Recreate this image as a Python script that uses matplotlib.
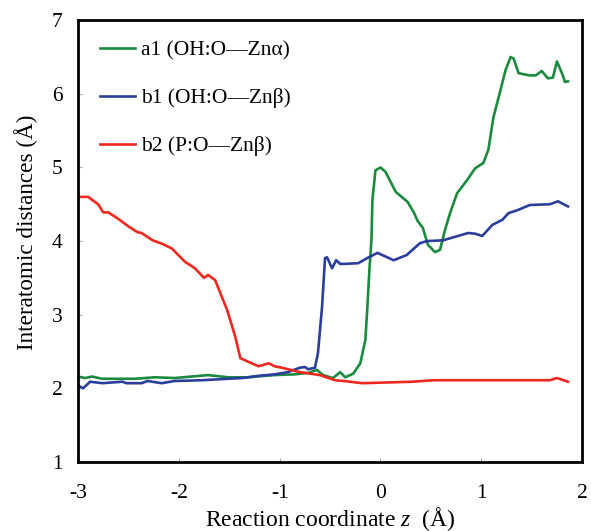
import matplotlib
matplotlib.use("Agg")
import matplotlib.pyplot as plt

# a1 (OH:O-Zn alpha)
a1_z = [-3.03, -2.93, -2.86, -2.76, -2.43, -2.24, -2.04, -1.71, -1.51, -1.31, -1.05,
        -0.85, -0.72, -0.63, -0.57, -0.47, -0.40, -0.35, -0.27, -0.20, -0.15, -0.13,
        -0.11, -0.09, -0.08, -0.05, 0.0, 0.05, 0.15, 0.27, 0.33, 0.37, 0.42, 0.47,
        0.54, 0.59, 0.64, 0.69, 0.76, 0.86, 0.94, 1.02, 1.07, 1.12, 1.19, 1.24,
        1.29, 1.32, 1.37, 1.48, 1.54, 1.60, 1.66, 1.71, 1.75, 1.80, 1.83, 1.86]
a1_d = [2.17, 2.14, 2.16, 2.13, 2.13, 2.15, 2.14, 2.18, 2.15, 2.15, 2.18,
        2.19, 2.21, 2.25, 2.18, 2.14, 2.22, 2.15, 2.20, 2.34, 2.66, 3.10,
        3.61, 4.01, 4.56, 4.96, 5.00, 4.94, 4.67, 4.53, 4.39, 4.27, 4.18, 3.95,
        3.85, 3.88, 4.15, 4.38, 4.65, 4.83, 4.99, 5.06, 5.24, 5.68, 6.05, 6.32,
        6.50, 6.48, 6.28, 6.25, 6.25, 6.31, 6.21, 6.22, 6.44, 6.28, 6.16, 6.17]

# b1 (OH:O-Zn beta)
b1_z = [-3.0, -2.95, -2.88, -2.76, -2.56, -2.52, -2.37, -2.31, -2.17, -2.04, -1.77,
        -1.51, -1.37, -1.21, -1.05, -0.92, -0.80, -0.75, -0.72, -0.65, -0.62, -0.58,
        -0.55, -0.53, -0.48, -0.44, -0.40, -0.35, -0.22, -0.13, -0.03, 0.13, 0.26,
        0.39, 0.46, 0.62, 0.87, 0.94, 1.01, 1.11, 1.21, 1.27, 1.36, 1.48, 1.68,
        1.76, 1.86]
b1_d = [2.04, 2.00, 2.09, 2.07, 2.09, 2.07, 2.07, 2.10, 2.07, 2.10, 2.11,
        2.13, 2.14, 2.17, 2.19, 2.22, 2.28, 2.29, 2.26, 2.28, 2.48, 3.10,
        3.77, 3.78, 3.63, 3.74, 3.69, 3.69, 3.70, 3.77, 3.84, 3.74, 3.81,
        3.97, 4.00, 4.01, 4.11, 4.10, 4.07, 4.22, 4.29, 4.38, 4.42, 4.49, 4.50,
        4.54, 4.47]

# b2 (P:O-Zn beta)
b2_z = [-3.03, -2.90, -2.80, -2.75, -2.70, -2.61, -2.50, -2.41, -2.37, -2.26, -2.16,
        -2.07, -1.94, -1.84, -1.75, -1.71, -1.64, -1.57, -1.52, -1.44, -1.39, -1.31,
        -1.21, -1.11, -1.05, -0.98, -0.80, -0.60, -0.45, -0.37, -0.18, 0.32, 0.52,
        1.68, 1.75, 1.86]
b2_d = [4.60, 4.60, 4.50, 4.39, 4.39, 4.31, 4.20, 4.12, 4.11, 4.01, 3.96,
        3.90, 3.72, 3.63, 3.50, 3.54, 3.47, 3.23, 3.06, 2.70, 2.41, 2.36,
        2.30, 2.34, 2.30, 2.28, 2.22, 2.18, 2.11, 2.10, 2.07, 2.09, 2.11,
        2.11, 2.14, 2.09]

plt.rcParams['font.family'] = ['Liberation Serif', 'DejaVu Serif']
plt.rcParams['axes.unicode_minus'] = False
plt.rcParams['mathtext.fontset'] = 'custom'
plt.rcParams['mathtext.it'] = 'Liberation Serif:italic'
plt.rcParams['mathtext.rm'] = 'Liberation Serif'

fig = plt.figure(figsize=(5.91, 5.31), dpi=100)
ax = fig.add_axes([0.132, 0.130, 0.853, 0.832])

ax.plot(a1_z, a1_d, color='#1b8a3f', lw=1.9, label='a1 (OH:O\u2014Zn\u03b1)')
ax.plot(b1_z, b1_d, color='#2b3e9c', lw=1.9, label='b1 (OH:O\u2014Zn\u03b2)')
ax.plot(b2_z, b2_d, color='#f0281e', lw=1.9, label='b2 (P:O\u2014Zn\u03b2)')

ax.set_xlim(-3, 2)
ax.set_ylim(1, 7)
ax.set_xticks([-3, -2, -1, 0, 1, 2])
ax.set_yticks([1, 2, 3, 4, 5, 6, 7])
ax.tick_params(direction='in', length=3, color='#aaaaaa', labelsize=15.5)
ax.tick_params(axis='x', pad=16)
ax.tick_params(axis='y', pad=11)
for s in ax.spines.values():
    s.set_linewidth(2)

ax.set_xlabel('Reaction coordinate $z$  (\u00c5)', fontsize=17, labelpad=1)
ax.set_ylabel('Interatomic distances (\u00c5)', fontsize=16.7)
ax.yaxis.set_label_coords(-0.08, 0.52)

ax.legend(loc='upper left', frameon=False, fontsize=15.5, handlelength=1.63,
          handletextpad=0.25, labelspacing=1.3, borderpad=0, borderaxespad=0,
          bbox_to_anchor=(0.044, 0.955))

plt.savefig('out.png', dpi=100)
